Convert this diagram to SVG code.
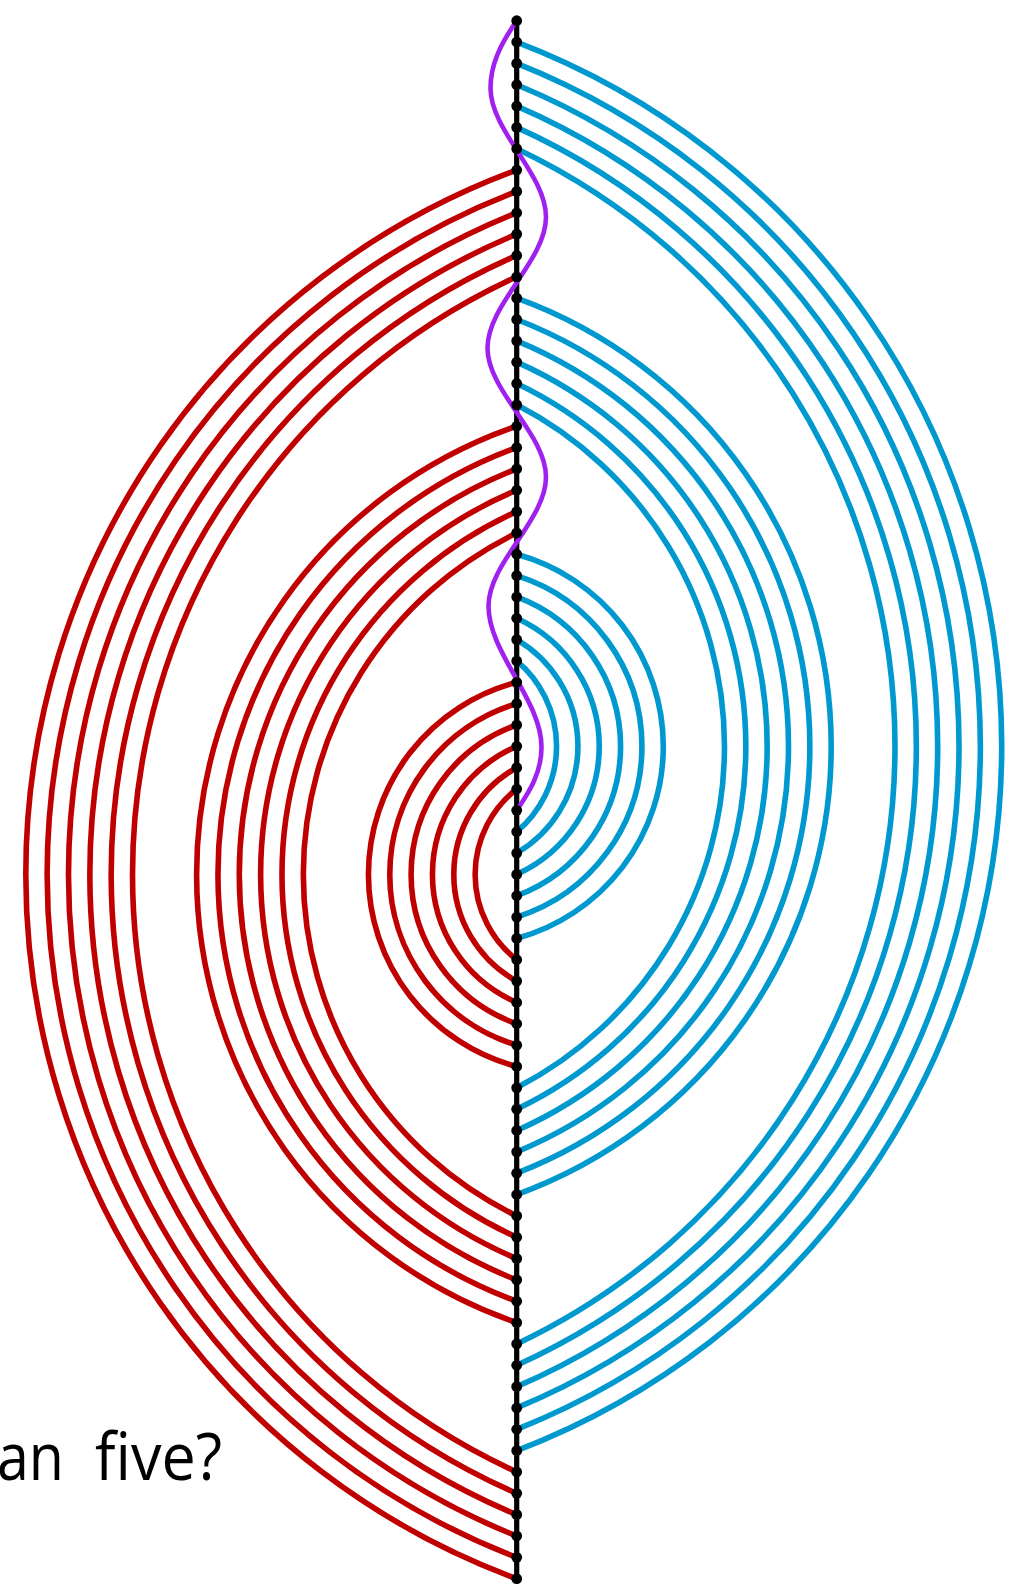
<svg xmlns="http://www.w3.org/2000/svg" width="1027" height="1584" viewBox="0 0 1027 1584">
<style>
.b{fill:none;stroke:#0099CF;stroke-width:5.6}
.r{fill:none;stroke:#C00000;stroke-width:5.6}
.w{fill:none;stroke:#A020F0;stroke-width:4.6;stroke-linecap:round}
.sp{stroke:#000;stroke-width:5.2}
.d{fill:#000}
.t{font-family:"Open Sans","Liberation Sans",Arial,sans-serif;font-size:66px;fill:#000}
</style>
<rect width="1027" height="1584" fill="#fff"/>
<g id="connectors">
<g id="blue-outer">
<path class="b" d="M516.7,42.04 A753.88,753.88 0 0 1 516.7,1450.65"/>
<path class="b" d="M516.7,63.38 A734.82,734.82 0 0 1 516.7,1429.30"/>
<path class="b" d="M516.7,84.73 A715.98,715.98 0 0 1 516.7,1407.96"/>
<path class="b" d="M516.7,106.07 A697.39,697.39 0 0 1 516.7,1386.62"/>
<path class="b" d="M516.7,127.41 A679.10,679.10 0 0 1 516.7,1365.28"/>
<path class="b" d="M516.7,148.75 A661.16,661.16 0 0 1 516.7,1343.93"/>
</g>
<g id="blue-middle">
<path class="b" d="M516.7,298.15 A476.61,476.61 0 0 1 516.7,1194.54"/>
<path class="b" d="M516.7,319.49 A457.34,457.34 0 0 1 516.7,1173.19"/>
<path class="b" d="M516.7,340.84 A438.39,438.39 0 0 1 516.7,1151.85"/>
<path class="b" d="M516.7,362.18 A419.85,419.85 0 0 1 516.7,1130.51"/>
<path class="b" d="M516.7,383.52 A401.83,401.83 0 0 1 516.7,1109.17"/>
<path class="b" d="M516.7,404.86 A384.50,384.50 0 0 1 516.7,1087.82"/>
</g>
<g id="blue-inner">
<path class="b" d="M516.7,554.26 A199.14,199.14 0 0 1 516.7,938.43"/>
<path class="b" d="M516.7,575.60 A179.01,179.01 0 0 1 516.7,917.08"/>
<path class="b" d="M516.7,596.95 A159.36,159.36 0 0 1 516.7,895.74"/>
<path class="b" d="M516.7,618.29 A140.59,140.59 0 0 1 516.7,874.40"/>
<path class="b" d="M516.7,639.63 A123.62,123.62 0 0 1 516.7,853.06"/>
<path class="b" d="M516.7,660.97 A111.33,111.33 0 0 1 516.7,831.71"/>
</g>
<g id="red-outer">
<path class="r" d="M516.7,170.10 A750.68,750.68 0 0 0 516.7,1578.70"/>
<path class="r" d="M516.7,191.44 A731.45,731.45 0 0 0 516.7,1557.36"/>
<path class="r" d="M516.7,212.78 A712.42,712.42 0 0 0 516.7,1536.02"/>
<path class="r" d="M516.7,234.12 A693.62,693.62 0 0 0 516.7,1514.67"/>
<path class="r" d="M516.7,255.47 A675.08,675.08 0 0 0 516.7,1493.33"/>
<path class="r" d="M516.7,276.81 A656.86,656.86 0 0 0 516.7,1471.99"/>
</g>
<g id="red-middle">
<path class="r" d="M516.7,426.21 A473.82,473.82 0 0 0 516.7,1322.59"/>
<path class="r" d="M516.7,447.55 A454.31,454.31 0 0 0 516.7,1301.25"/>
<path class="r" d="M516.7,468.89 A435.08,435.08 0 0 0 516.7,1279.91"/>
<path class="r" d="M516.7,490.23 A416.20,416.20 0 0 0 516.7,1258.56"/>
<path class="r" d="M516.7,511.58 A397.78,397.78 0 0 0 516.7,1237.22"/>
<path class="r" d="M516.7,532.92 A379.93,379.93 0 0 0 516.7,1215.88"/>
</g>
<g id="red-inner">
<path class="r" d="M516.7,682.32 A198.55,198.55 0 0 0 516.7,1066.48"/>
<path class="r" d="M516.7,703.66 A178.30,178.30 0 0 0 516.7,1045.14"/>
<path class="r" d="M516.7,725.00 A158.48,158.48 0 0 0 516.7,1023.80"/>
<path class="r" d="M516.7,746.34 A139.44,139.44 0 0 0 516.7,1002.45"/>
<path class="r" d="M516.7,767.69 A121.96,121.96 0 0 0 516.7,981.11"/>
<path class="r" d="M516.7,789.03 A108.45,108.45 0 0 0 516.7,959.77"/>
</g>
<line id="spine" class="sp" x1="516.7" y1="20.7" x2="516.7" y2="1578.7"/>
<path id="wave" class="w" d="M516.7,20.7 C500,45 490.5,65 490.5,88 C490.5,131 546,174 546,217 C546,260.7 487.5,304.3 487.5,348 C487.5,391 546,434 546,477 C546,520 488.5,563 488.5,606 C488.5,653 541.5,700 541.5,747 C541.5,775 527,795 516.7,810.4"/>
</g>
<g id="nodes">
<g id="p0"><circle class="d" cx="516.7" cy="20.70" r="5.4"/></g>
<g id="p1"><circle class="d" cx="516.7" cy="42.04" r="5.4"/></g>
<g id="p2"><circle class="d" cx="516.7" cy="63.38" r="5.4"/></g>
<g id="p3"><circle class="d" cx="516.7" cy="84.73" r="5.4"/></g>
<g id="p4"><circle class="d" cx="516.7" cy="106.07" r="5.4"/></g>
<g id="p5"><circle class="d" cx="516.7" cy="127.41" r="5.4"/></g>
<g id="p6"><circle class="d" cx="516.7" cy="148.75" r="5.4"/></g>
<g id="p7"><circle class="d" cx="516.7" cy="170.10" r="5.4"/></g>
<g id="p8"><circle class="d" cx="516.7" cy="191.44" r="5.4"/></g>
<g id="p9"><circle class="d" cx="516.7" cy="212.78" r="5.4"/></g>
<g id="p10"><circle class="d" cx="516.7" cy="234.12" r="5.4"/></g>
<g id="p11"><circle class="d" cx="516.7" cy="255.47" r="5.4"/></g>
<g id="p12"><circle class="d" cx="516.7" cy="276.81" r="5.4"/></g>
<g id="p13"><circle class="d" cx="516.7" cy="298.15" r="5.4"/></g>
<g id="p14"><circle class="d" cx="516.7" cy="319.49" r="5.4"/></g>
<g id="p15"><circle class="d" cx="516.7" cy="340.84" r="5.4"/></g>
<g id="p16"><circle class="d" cx="516.7" cy="362.18" r="5.4"/></g>
<g id="p17"><circle class="d" cx="516.7" cy="383.52" r="5.4"/></g>
<g id="p18"><circle class="d" cx="516.7" cy="404.86" r="5.4"/></g>
<g id="p19"><circle class="d" cx="516.7" cy="426.21" r="5.4"/></g>
<g id="p20"><circle class="d" cx="516.7" cy="447.55" r="5.4"/></g>
<g id="p21"><circle class="d" cx="516.7" cy="468.89" r="5.4"/></g>
<g id="p22"><circle class="d" cx="516.7" cy="490.23" r="5.4"/></g>
<g id="p23"><circle class="d" cx="516.7" cy="511.58" r="5.4"/></g>
<g id="p24"><circle class="d" cx="516.7" cy="532.92" r="5.4"/></g>
<g id="p25"><circle class="d" cx="516.7" cy="554.26" r="5.4"/></g>
<g id="p26"><circle class="d" cx="516.7" cy="575.60" r="5.4"/></g>
<g id="p27"><circle class="d" cx="516.7" cy="596.95" r="5.4"/></g>
<g id="p28"><circle class="d" cx="516.7" cy="618.29" r="5.4"/></g>
<g id="p29"><circle class="d" cx="516.7" cy="639.63" r="5.4"/></g>
<g id="p30"><circle class="d" cx="516.7" cy="660.97" r="5.4"/></g>
<g id="p31"><circle class="d" cx="516.7" cy="682.32" r="5.4"/></g>
<g id="p32"><circle class="d" cx="516.7" cy="703.66" r="5.4"/></g>
<g id="p33"><circle class="d" cx="516.7" cy="725.00" r="5.4"/></g>
<g id="p34"><circle class="d" cx="516.7" cy="746.34" r="5.4"/></g>
<g id="p35"><circle class="d" cx="516.7" cy="767.69" r="5.4"/></g>
<g id="p36"><circle class="d" cx="516.7" cy="789.03" r="5.4"/></g>
<g id="p37"><circle class="d" cx="516.7" cy="810.37" r="5.4"/></g>
<g id="p38"><circle class="d" cx="516.7" cy="831.71" r="5.4"/></g>
<g id="p39"><circle class="d" cx="516.7" cy="853.06" r="5.4"/></g>
<g id="p40"><circle class="d" cx="516.7" cy="874.40" r="5.4"/></g>
<g id="p41"><circle class="d" cx="516.7" cy="895.74" r="5.4"/></g>
<g id="p42"><circle class="d" cx="516.7" cy="917.08" r="5.4"/></g>
<g id="p43"><circle class="d" cx="516.7" cy="938.43" r="5.4"/></g>
<g id="p44"><circle class="d" cx="516.7" cy="959.77" r="5.4"/></g>
<g id="p45"><circle class="d" cx="516.7" cy="981.11" r="5.4"/></g>
<g id="p46"><circle class="d" cx="516.7" cy="1002.45" r="5.4"/></g>
<g id="p47"><circle class="d" cx="516.7" cy="1023.80" r="5.4"/></g>
<g id="p48"><circle class="d" cx="516.7" cy="1045.14" r="5.4"/></g>
<g id="p49"><circle class="d" cx="516.7" cy="1066.48" r="5.4"/></g>
<g id="p50"><circle class="d" cx="516.7" cy="1087.82" r="5.4"/></g>
<g id="p51"><circle class="d" cx="516.7" cy="1109.17" r="5.4"/></g>
<g id="p52"><circle class="d" cx="516.7" cy="1130.51" r="5.4"/></g>
<g id="p53"><circle class="d" cx="516.7" cy="1151.85" r="5.4"/></g>
<g id="p54"><circle class="d" cx="516.7" cy="1173.19" r="5.4"/></g>
<g id="p55"><circle class="d" cx="516.7" cy="1194.54" r="5.4"/></g>
<g id="p56"><circle class="d" cx="516.7" cy="1215.88" r="5.4"/></g>
<g id="p57"><circle class="d" cx="516.7" cy="1237.22" r="5.4"/></g>
<g id="p58"><circle class="d" cx="516.7" cy="1258.56" r="5.4"/></g>
<g id="p59"><circle class="d" cx="516.7" cy="1279.91" r="5.4"/></g>
<g id="p60"><circle class="d" cx="516.7" cy="1301.25" r="5.4"/></g>
<g id="p61"><circle class="d" cx="516.7" cy="1322.59" r="5.4"/></g>
<g id="p62"><circle class="d" cx="516.7" cy="1343.93" r="5.4"/></g>
<g id="p63"><circle class="d" cx="516.7" cy="1365.28" r="5.4"/></g>
<g id="p64"><circle class="d" cx="516.7" cy="1386.62" r="5.4"/></g>
<g id="p65"><circle class="d" cx="516.7" cy="1407.96" r="5.4"/></g>
<g id="p66"><circle class="d" cx="516.7" cy="1429.30" r="5.4"/></g>
<g id="p67"><circle class="d" cx="516.7" cy="1450.65" r="5.4"/></g>
<g id="p68"><circle class="d" cx="516.7" cy="1471.99" r="5.4"/></g>
<g id="p69"><circle class="d" cx="516.7" cy="1493.33" r="5.4"/></g>
<g id="p70"><circle class="d" cx="516.7" cy="1514.67" r="5.4"/></g>
<g id="p71"><circle class="d" cx="516.7" cy="1536.02" r="5.4"/></g>
<g id="p72"><circle class="d" cx="516.7" cy="1557.36" r="5.4"/></g>
<g id="p73"><circle class="d" cx="516.7" cy="1578.70" r="5.4"/></g>
</g>
<g id="caption">
<text class="t" y="1480"><tspan x="-3" textLength="67" lengthAdjust="spacingAndGlyphs">an</tspan> <tspan x="95" textLength="127" lengthAdjust="spacingAndGlyphs">five?</tspan></text>
</g>
</svg>
